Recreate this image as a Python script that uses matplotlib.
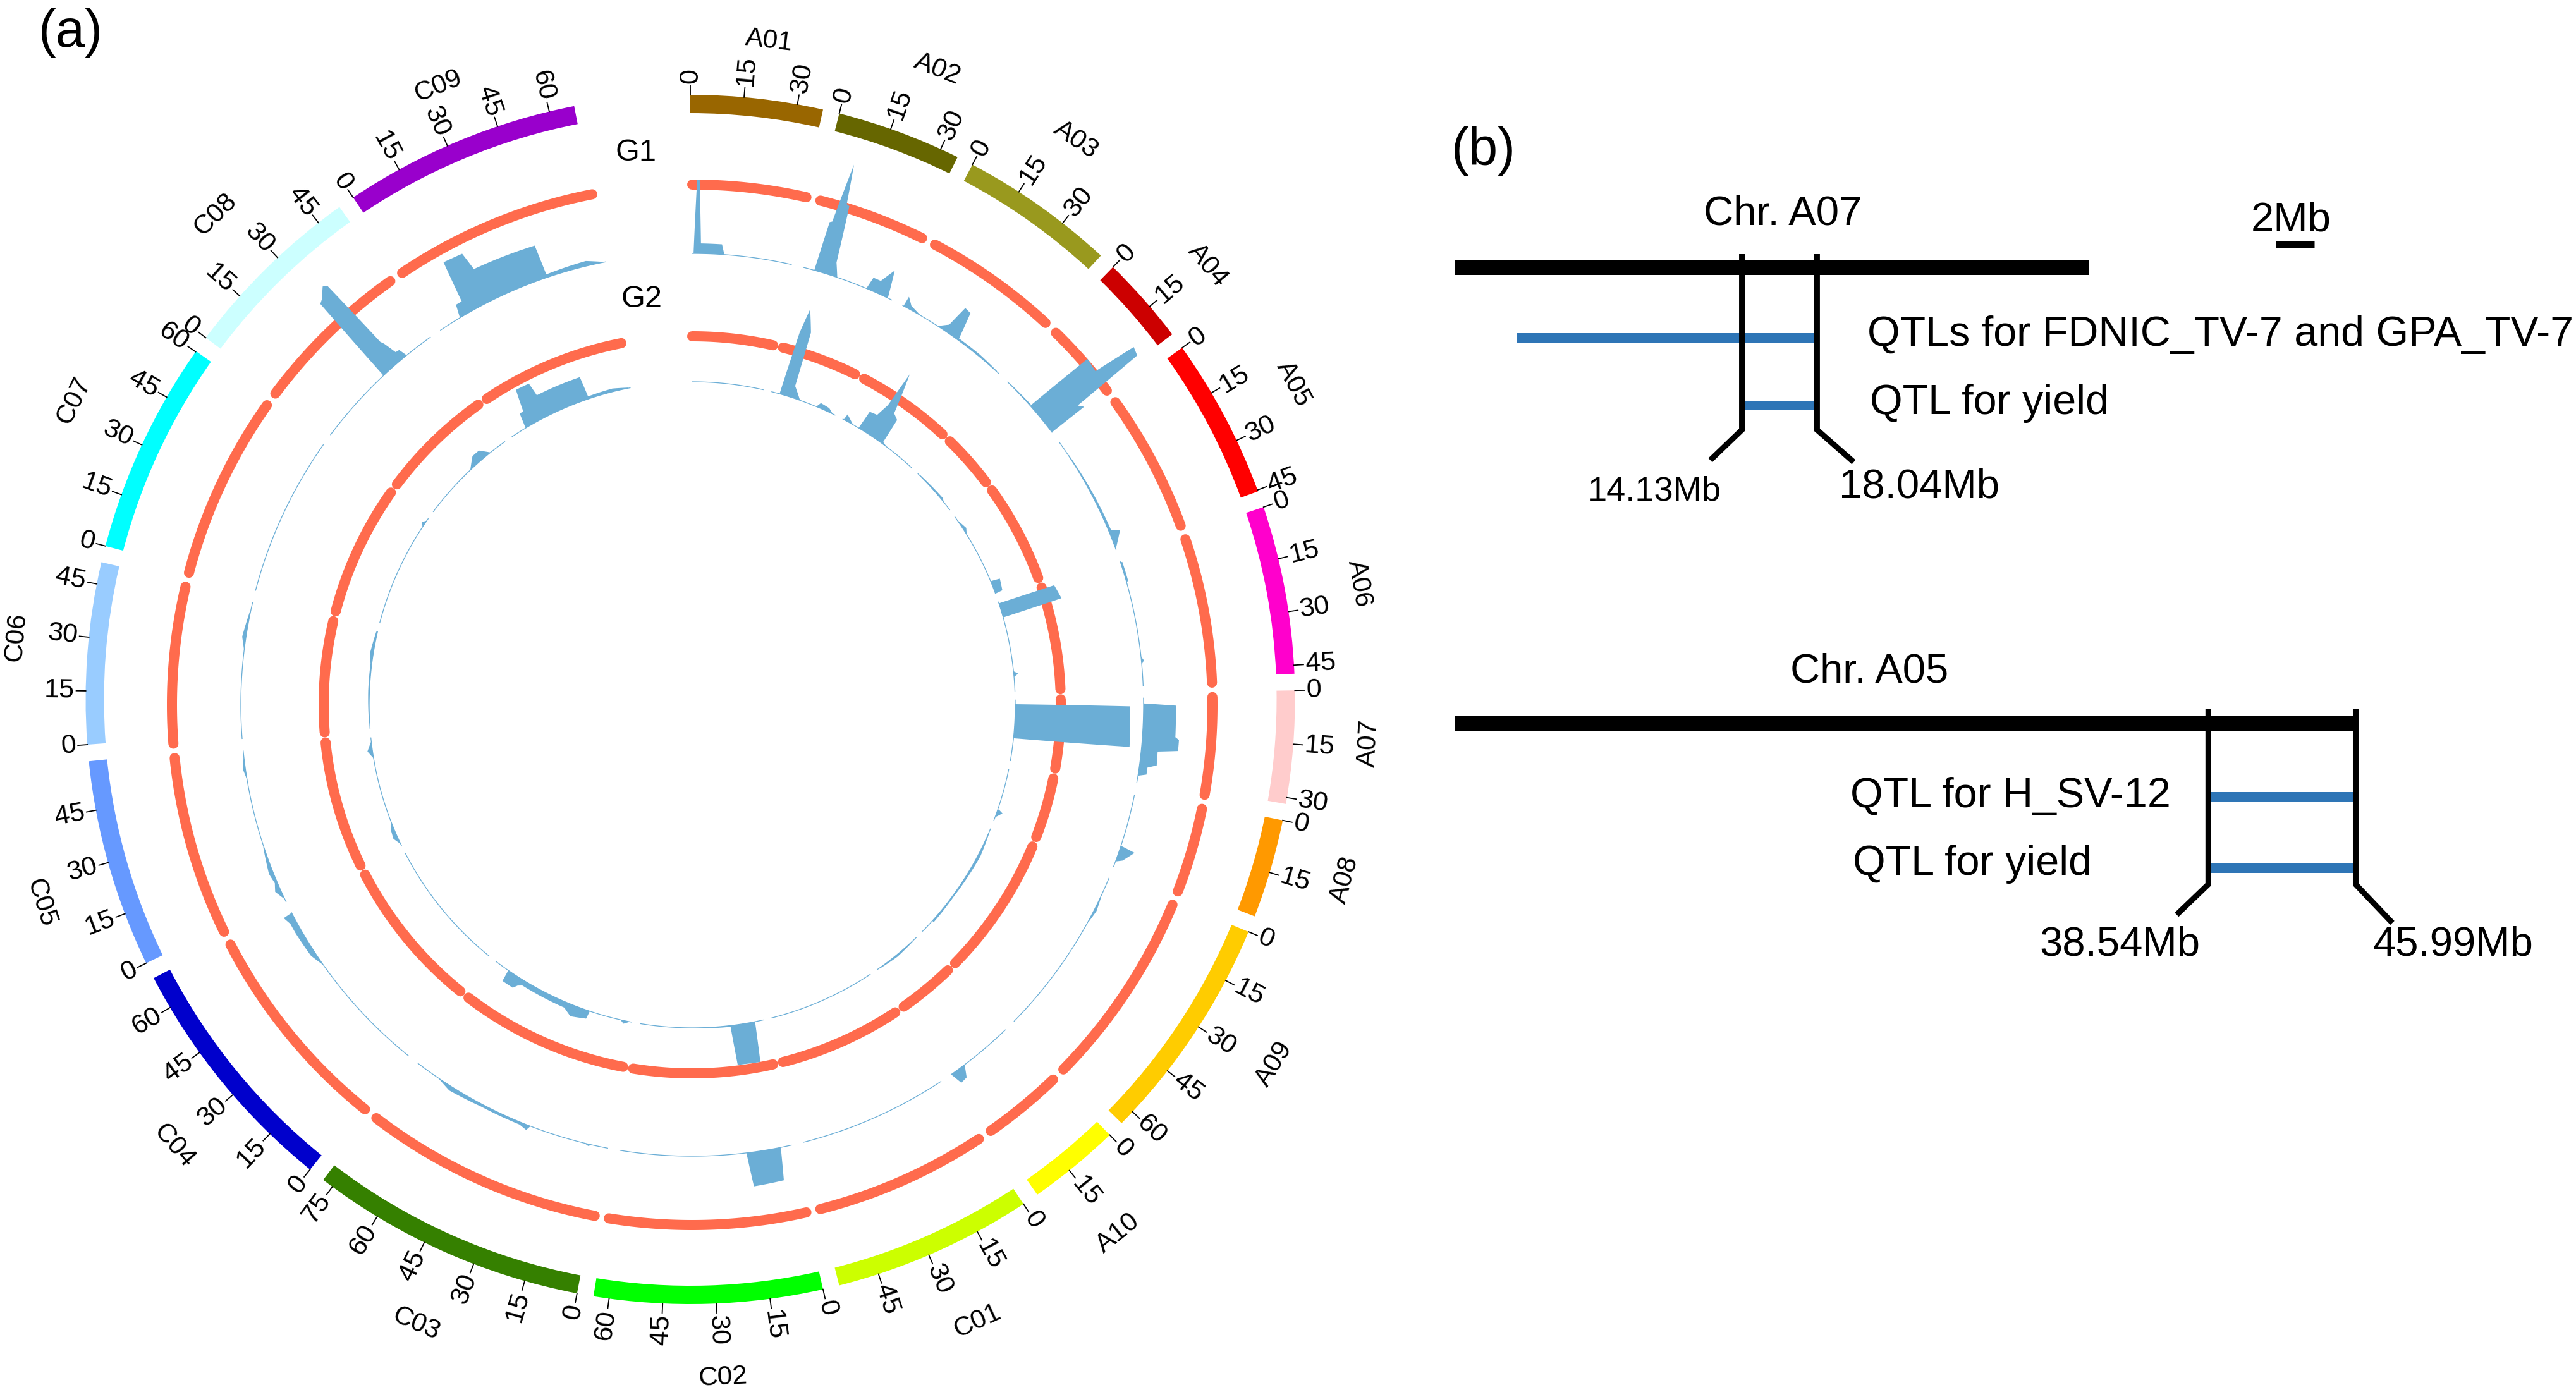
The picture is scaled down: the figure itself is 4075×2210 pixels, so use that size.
import numpy as np
import matplotlib
matplotlib.use("Agg")
import matplotlib.pyplot as plt

plt.rcParams['font.family'] = ['Liberation Sans', 'DejaVu Sans']

# ---- data ----
chrom_names = ["A01","A02","A03","A04","A05","A06","A07","A08","A09","A10",
               "C01","C02","C03","C04","C05","C06","C07","C08","C09"]
chrom_lengths = [37.3,35.2,44.0,25.0,45.4,47.4,31.8,27.9,64.4,26.2,
                 56.4,64.4,78.2,69.4,58.8,51.2,60.2,52.3,67.1]
chrom_colors = ["#996600","#666600","#99991E","#CC0000","#FF0000","#FF00CC","#FFCCCC",
                "#FF9900","#FFCC00","#FFFF00","#CCFF00","#00FF00","#358000","#0000CC",
                "#6699FF","#99CCFF","#00FFFF","#CCFFFF","#9900CC"]
tick_step = 15

# (chromosome, positions in Mb, signal)
g1_peaks = [
    ("A01",[0.5,1.6,2.4,3.2,10.9,12.0],[0,11.7,11.7,1.6,1.6,0]),
    ("A02",[4.2,4.8,5.6,7.1,8.5,9.5,11.2,13.2],[0,8.0,8.2,17.8,11.5,11.3,2.2,0]),
    ("A02",[24.8,25.7,28.6,31.6,33.6],[0,2.0,2.0,4.4,0]),
    ("A03",[0.3,0.5,2.9,7.6],[0,1.7,0.6,0]),
    ("A03",[15.1,18.4,19.8,22.3,24.3,34.0,43.0],[0,1.2,4.8,4.6,0.3,0.3,0.1]),
    ("A04",[1.0,12.0],[0.1,0.2]),
    ("A04",[12.2,13.1,17.8,19.5,22.1,23.0,24.7,25.0],[0,11.7,11.4,18.5,18.1,5.8,6.5,0]),
    ("A05",[6.0,25.0,38.1,39.3,45.2],[0.1,0.3,0.4,1.7,0]),
    ("A06",[0.5,8.0],[0.3,0.3]),
    ("A06",[36.5,38.0,39.5],[0,0.4,0]),
    ("A07",[2.0,2.8,13.8,14.7,18.5,19.4,24.4,25.6,28.2,29.1],[0,5.1,5.2,5.8,5.8,2.6,2.7,1.3,1.3,0]),
    ("A08",[19.6,20.5,24.6,25.8],[0,2.4,1.0,0]),
    ("A09",[7.9,13.0,18.0],[0.1,0.4,0.1]),
    ("A10",[20.0,22.2,24.9,26.2],[0,1.8,2.0,0]),
    ("C02",[4.0,5.2,15.8,17.0],[0,5.2,5.4,0]),
    ("C03",[6.0,7.3,9.0],[0,0.3,0]),
    ("C03",[30.0,31.0,34.0,50.0,63.0,69.0],[0,0.8,0.4,0.4,0.7,0]),
    ("C04",[46.5,52.0,62.0,66.0,69.0,69.4],[0,0.8,1.0,1.0,1.5,0]),
    ("C05",[1.0,5.0,8.0,12.0,22.0],[0,0.9,0.4,0.7,0.1]),
    ("C05",[48.0,52.0,57.0],[0,0.4,0]),
    ("C06",[33.0,38.0,48.0],[0,0.6,0.1]),
    ("C08",[29.7,30.6,32.0,34.7,35.9,37.0,37.6,38.8,40.3,41.2],[0,15.1,15.5,16.9,16.5,4.3,3.7,1.5,1.4,0]),
    ("C09",[8.6,9.8,12.2,13.4,20.2,21.4,44.0,44.6,60.0,66.0],[0,2.1,2.1,8.9,8.7,5.7,5.4,0.5,0.8,0.1]),
]
g2_peaks = [
    ("A02",[4.2,5.4,6.9,10.1,10.7,15.4],[0,10.2,14.2,10.7,1.9,0]),
    ("A02",[24.5,26.0,31.0,33.9],[0,0.8,0.6,0]),
    ("A03",[0.5,1.0,6.0],[0,1.0,0]),
    ("A03",[9.4,10.0,13.9,15.7,16.3,20.3,23.3,24.1,27.0],[0,3.1,3.3,5.5,11.5,5.0,4.4,0.3,0]),
    ("A04",[1.0,18.0,20.0],[0.1,0.3,0]),
    ("A05",[2.0,8.0,11.0],[0,0.5,0]),
    ("A05",[38.5,39.0,45.0,45.4],[0.2,1.5,1.2,0]),
    ("A06",[0.7,0.8,7.2,8.4],[0,9.2,9.7,0]),
    ("A06",[37.0,38.5,40.0],[0,0.7,0]),
    ("A07",[2.2,3.1,18.7,20.0],[0,18.1,18.4,0]),
    ("A08",[21.6,22.8,26.0],[0.2,0.9,0]),
    ("A09",[3.0,15.0,40.0,57.0],[0.1,0.4,0.2,0.3]),
    ("A10",[3.0,14.0,25.0],[0.1,0.3,0.1]),
    ("C02",[4.3,5.5,16.1,17.3,35.0],[0,6.4,6.3,0.2,0.1]),
    ("C03",[1.0,4.0,6.0],[0,0.5,0]),
    ("C03",[22.6,23.2,31.1,35.6,60.0,62.0,63.5,69.7,70.3],[0,1.3,1.8,0.9,0.8,1.2,1.9,1.9,0]),
    ("C05",[1.0,5.0,10.0,14.0],[0,0.7,0.5,0]),
    ("C05",[48.0,52.0,57.0],[0,0.8,0]),
    ("C06",[3.0,20.0,34.0,40.0,51.0],[0.1,0.2,0.2,0.5,0.2]),
    ("C07",[55.0,57.0,59.0],[0,0.5,0]),
    ("C08",[29.0,34.7,39.0,43.0],[0,1.4,1.4,0]),
    ("C09",[8.4,9.6,11.6,13.7,20.4,21.3,44.0,44.8,58.0,66.0],[0,2.5,2.4,6.0,5.9,3.7,3.7,0.4,0.5,0.1]),
]

a07_interval = [14.13, 18.04]
a05_interval = [38.54, 45.99]
a07_span = [-0.8, 32.2]
a05_span = [0.48, 45.99]
a07_qtls = [("FDNIC", 2.4, 18.04), ("yield", 14.13, 18.04)]
a05_qtls = [("H_SV-12", 38.54, 45.99), ("yield", 38.54, 45.99)]
scale_bar_mb = 2

# ---- layout (pixels in the 4075x2210 figure) ----
W, H, DPI = 4075, 2210, 100
PT = 72 / DPI
RMAX = 1300
deg_per_mb, gap_deg = 0.34, 1.58
BLUE, RING = "#6BAED6", "#FF6B4D"
LINEB = "#2E75B6"
label_angle = [6.8,21.4,34.6,50.0,62.4,80.2,93.7,105.4,122.0,141.3,
               155.2,177.2,203.7,229.1,252.6,275.3,295.9,315.6,337.7]
label_radius = [1049,1071,1075,1069,1077,1074,1076,1074,1089,1082,
                1083,1074,1079,1080,1076,1071,1084,1074,1049]

fig = plt.figure(figsize=(W / DPI, H / DPI), dpi=DPI, facecolor="white")

def polar_axes(cx, cy):
    ax = fig.add_axes([(cx - RMAX) / W, 1 - (cy + RMAX) / H, 2 * RMAX / W, 2 * RMAX / H],
                      projection="polar")
    ax.set_theta_zero_location("N")
    ax.set_theta_direction(-1)
    ax.set_autoscale_on(False)
    ax.set_ylim(0, RMAX)
    ax.set_axis_off()
    return ax

starts = {}
pos = 0.0
for name, ln in zip(chrom_names, chrom_lengths):
    starts[name] = pos
    pos += ln * deg_per_mb + gap_deg

def th(name, mb):
    return np.radians(starts[name] + np.asarray(mb, float) * deg_per_mb)

# ---- outer ideogram ----
ax_c = polar_axes(1092, 1106.5)
R_IN, R_OUT = 927.5, 956.5
for name, ln, col, la, lr in zip(chrom_names, chrom_lengths, chrom_colors, label_angle, label_radius):
    a0, a1 = th(name, 0), th(name, ln)
    ax_c.bar((a0 + a1) / 2, R_OUT - R_IN, width=a1 - a0, bottom=R_IN, color=col, linewidth=0)
    for v in np.arange(0, ln + 0.01, tick_step):
        t_ = float(th(name, v))
        deg = np.degrees(t_)
        ax_c.plot([t_, t_], [R_OUT, R_OUT + 15], color="black", lw=1.3, clip_on=False)
        if deg < 180:
            rot, ha = 90 - deg, "left"
        else:
            rot, ha = 270 - deg, "right"
        ax_c.text(t_, R_OUT + 18, f"{int(v)}", rotation=rot, rotation_mode="anchor",
                  ha=ha, va="center", fontsize=31)
    rot = -la if la < 90 else (180 - la if la < 270 else 360 - la)
    ax_t_label = ax_c.text(np.radians(la), lr, name, rotation=rot, rotation_mode="anchor",
                           ha="center", va="center", fontsize=30.5)

# ---- inner tracks ----
ax_t = polar_axes(1095, 1115)
PX_PER_UNIT = 10
tracks = [(823, 714, g1_peaks), (583, 511, g2_peaks)]
for r_ring, r_base, peaks in tracks:
    for name, ln in zip(chrom_names, chrom_lengths):
        m = np.linspace(0, ln, 120)
        ax_t.plot(th(name, m), np.full(m.size, r_ring), color=RING, lw=16 * PT,
                  solid_capstyle="round", zorder=2)
        ax_t.plot(th(name, m), np.full(m.size, r_base), color=BLUE, lw=1.3 * PT, zorder=3)
    for name, mb, val in peaks:
        xs = [mb[0]]
        ys = [val[0]]
        for i in range(len(mb) - 1):
            seg = np.linspace(0, 1, 9)[1:]
            xs.extend(mb[i] + seg * (mb[i + 1] - mb[i]))
            ys.extend(val[i] + seg * (val[i + 1] - val[i]))
        xs, ys = np.array(xs), np.array(ys)
        top = r_base + ys * PX_PER_UNIT
        back = np.linspace(mb[-1], mb[0], 30)
        tt = np.concatenate([th(name, xs), th(name, back)])
        rr = np.concatenate([top, np.full(back.size, r_base)])
        ax_t.fill(tt, rr, color=BLUE, linewidth=0, zorder=4)

# ---- panel b: x in Mb, y in figure pixels ----
def mb_axes(px_per_mb, x0):
    ax = fig.add_axes([0, 0, 1, 1], facecolor="none")
    ax.set_xlim(-x0 / px_per_mb, (W - x0) / px_per_mb)
    ax.set_ylim(H, 0)
    ax.set_axis_off()
    return ax

ax_b = mb_axes(30.4, 2326)
ax_b2 = mb_axes(31.3, 2287)

def draw_chr(ax, scale, y, span, interval, qtls, qtl_y, top, bot, hook_l, hook_r):
    ax.plot(span, [y, y], color="black", lw=24 * PT, solid_capstyle="butt")
    for v, d, hy in zip(interval, (-50 / scale, 58 / scale), (hook_l, hook_r)):
        ax.plot([v, v, v + d], [top, bot, hy], color="black", lw=9 * PT,
                solid_capstyle="butt", solid_joinstyle="miter", zorder=4)
    for (lab, a, b), qy in zip(qtls, qtl_y):
        ax.plot([a, b], [qy, qy], color=LINEB, lw=15 * PT, solid_capstyle="butt", zorder=3)

draw_chr(ax_b, 30.4, 423, a07_span, a07_interval, a07_qtls, [534, 641], 402, 680, 728, 731)
draw_chr(ax_b2, 31.3, 1145, a05_span, a05_interval, a05_qtls, [1260, 1373], 1122, 1399, 1447, 1460)
ax_b.plot([(3600 - 2326) / 30.4, (3600 - 2326) / 30.4 + scale_bar_mb], [387, 387],
          color="black", lw=11 * PT, solid_capstyle="butt")

def t(px, py, s, size, ha="center"):
    ax_b.text((px - 2326) / 30.4, py + 4, s, fontsize=size, ha=ha, va="center")

t(112, 48, "(a)", 60)
t(2347, 235, "(b)", 60)
t(1006, 237, "G1", 35)
t(1015, 470, "G2", 35)
t(2820, 334, "Chr. A07", 47)
t(2957, 1059, "Chr. A05", 47)
t(3624, 345, "2Mb", 47)
t(2954, 526, "QTLs for FDNIC_TV-7 and GPA_TV-7", 47.8, "left")
t(2958, 634, "QTL for yield", 47.8, "left")
t(2927, 1256, "QTL for H_SV-12", 47.8, "left")
t(2931, 1363, "QTL for yield", 47.8, "left")
t(2617, 774, "14.13Mb", 39)
t(3036, 767, "18.04Mb", 47)
t(3354, 1491, "38.54Mb", 47)
t(3880, 1491, "45.99Mb", 47)

fig.savefig("out.png", dpi=DPI, facecolor="white")
